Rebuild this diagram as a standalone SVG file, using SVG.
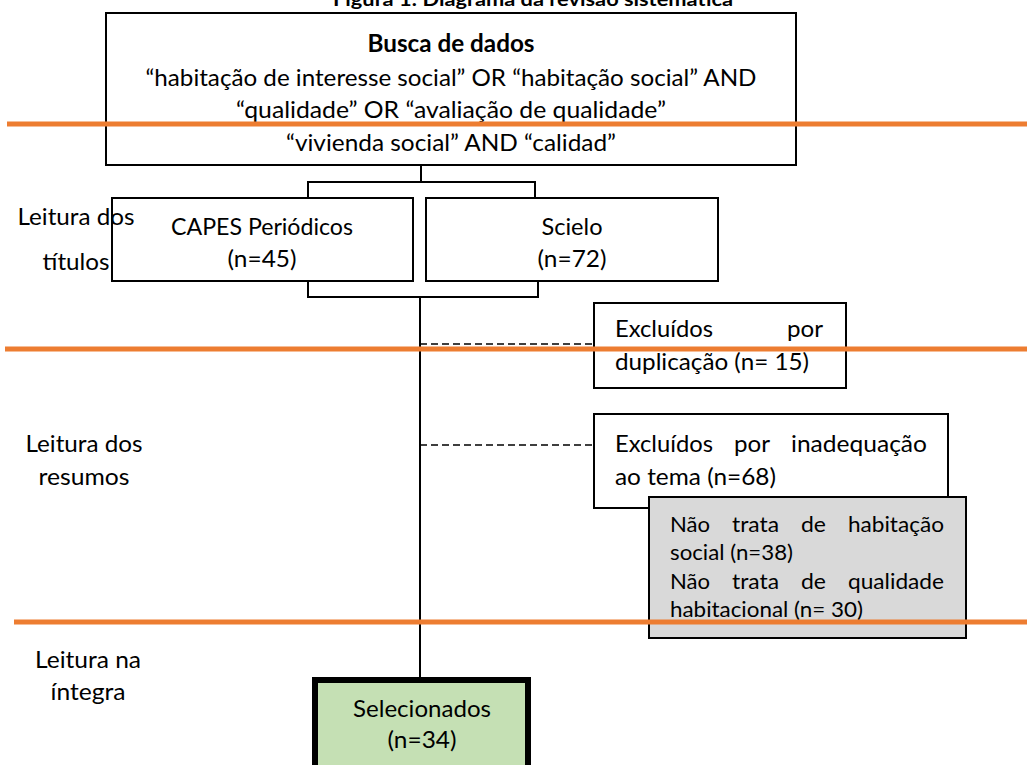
<svg xmlns="http://www.w3.org/2000/svg" width="1027" height="765" viewBox="0 0 1027 765">
<style>
text{font-family:Lato,"Liberation Sans",sans-serif;fill:#000}
.t{font-size:24px}
.s{font-size:22px}
.b{font-weight:bold}
.box{fill:#fff;stroke:#000;stroke-width:2}
.ln{fill:none;stroke:#000;stroke-width:2}
.dash{fill:none;stroke:#000;stroke-width:1.5;stroke-dasharray:7 4}
.or{stroke:#ED7D31;stroke-width:5}
</style>
<rect width="1027" height="765" fill="#fff"/>
<text x="333" y="6" class="b" font-size="19" textLength="400" lengthAdjust="spacingAndGlyphs">Figura 1: Diagrama da revisão sistemática</text>

<g id="connectors">
<path class="ln" d="M421,165 V182 M308,198 V182 H535 V198"/>
<path class="ln" d="M308,281 V297 H538 V281"/>
<path class="ln" d="M420,297 V677"/>
<path class="dash" d="M420,344 H594"/>
<path class="dash" d="M420,445 H594"/>
</g>

<g id="busca">
<rect class="box" x="106" y="13" width="690" height="152"/>
<text class="t b" x="451" y="52" text-anchor="middle" textLength="167" lengthAdjust="spacingAndGlyphs">Busca de dados</text>
<text class="t" x="451" y="86" text-anchor="middle" textLength="611" lengthAdjust="spacingAndGlyphs">“habitação de interesse social” OR “habitação social” AND</text>
<text class="t" x="451" y="118" text-anchor="middle" textLength="430" lengthAdjust="spacingAndGlyphs">“qualidade” OR “avaliação de qualidade”</text>
<text class="t" x="451" y="151" text-anchor="middle" textLength="330" lengthAdjust="spacingAndGlyphs">“vivienda social” AND “calidad”</text>
</g>

<g id="capes">
<rect class="box" x="112" y="198" width="301" height="83"/>
<text class="t" x="262" y="235" text-anchor="middle" textLength="182" lengthAdjust="spacingAndGlyphs">CAPES Periódicos</text>
<text class="t" x="262" y="267" text-anchor="middle" textLength="69" lengthAdjust="spacingAndGlyphs">(n=45)</text>
</g>

<g id="scielo">
<rect class="box" x="426" y="198" width="292" height="83"/>
<text class="t" x="572" y="235" text-anchor="middle" textLength="61" lengthAdjust="spacingAndGlyphs">Scielo</text>
<text class="t" x="572" y="267" text-anchor="middle" textLength="69" lengthAdjust="spacingAndGlyphs">(n=72)</text>
</g>

<g id="label-titulos">
<text class="t" x="76" y="225" text-anchor="middle" textLength="117" lengthAdjust="spacingAndGlyphs">Leitura dos</text>
<text class="t" x="76" y="270" text-anchor="middle" textLength="67" lengthAdjust="spacingAndGlyphs">títulos</text>
</g>

<g id="duplicacao">
<rect class="box" x="594" y="303" width="252" height="85"/>
<text class="t" x="615" y="337" textLength="98" lengthAdjust="spacingAndGlyphs">Excluídos</text>
<text class="t" x="823" y="337" text-anchor="end" textLength="36" lengthAdjust="spacingAndGlyphs">por</text>
<text class="t" x="615" y="370" textLength="194" lengthAdjust="spacingAndGlyphs">duplicação (n= 15)</text>
</g>

<g id="inadequacao">
<rect class="box" x="594" y="414" width="354" height="94"/>
<text class="t" x="615" y="452" textLength="98" lengthAdjust="spacingAndGlyphs">Excluídos</text>
<text class="t" x="734" y="452" textLength="36" lengthAdjust="spacingAndGlyphs">por</text>
<text class="t" x="927" y="452" text-anchor="end" textLength="136" lengthAdjust="spacingAndGlyphs">inadequação</text>
<text class="t" x="615" y="485" textLength="161" lengthAdjust="spacingAndGlyphs">ao tema (n=68)</text>
</g>

<g id="motivos">
<rect x="649" y="497" width="317" height="141" fill="#D9D9D9" stroke="#000" stroke-width="2"/>
<text class="s" x="670" y="532" textLength="40" lengthAdjust="spacingAndGlyphs">Não</text>
<text class="s" x="732" y="532" textLength="47" lengthAdjust="spacingAndGlyphs">trata</text>
<text class="s" x="801" y="532" textLength="25" lengthAdjust="spacingAndGlyphs">de</text>
<text class="s" x="944" y="532" text-anchor="end" textLength="96" lengthAdjust="spacingAndGlyphs">habitação</text>
<text class="s" x="670" y="560" textLength="123" lengthAdjust="spacingAndGlyphs">social (n=38)</text>
<text class="s" x="670" y="589" textLength="40" lengthAdjust="spacingAndGlyphs">Não</text>
<text class="s" x="732" y="589" textLength="47" lengthAdjust="spacingAndGlyphs">trata</text>
<text class="s" x="801" y="589" textLength="25" lengthAdjust="spacingAndGlyphs">de</text>
<text class="s" x="944" y="589" text-anchor="end" textLength="96" lengthAdjust="spacingAndGlyphs">qualidade</text>
<text class="s" x="670" y="617" textLength="193" lengthAdjust="spacingAndGlyphs">habitacional (n= 30)</text>
</g>

<g id="label-resumos">
<text class="t" x="84" y="452" text-anchor="middle" textLength="117" lengthAdjust="spacingAndGlyphs">Leitura dos</text>
<text class="t" x="84" y="485" text-anchor="middle" textLength="91" lengthAdjust="spacingAndGlyphs">resumos</text>
</g>

<g id="label-integra">
<text class="t" x="88" y="668" text-anchor="middle" textLength="106" lengthAdjust="spacingAndGlyphs">Leitura na</text>
<text class="t" x="88" y="700" text-anchor="middle" textLength="75" lengthAdjust="spacingAndGlyphs">íntegra</text>
</g>

<g id="selecionados">
<rect x="315" y="680" width="213" height="100" fill="#C5E0B4" stroke="#000" stroke-width="6"/>
<text class="t" x="422" y="717" text-anchor="middle" textLength="138" lengthAdjust="spacingAndGlyphs">Selecionados</text>
<text class="t" x="422" y="748" text-anchor="middle" textLength="69" lengthAdjust="spacingAndGlyphs">(n=34)</text>
</g>

<g id="dividers">
<line class="or" x1="7" y1="124" x2="1027" y2="124"/>
<line class="or" x1="5" y1="349" x2="1027" y2="349"/>
<line class="or" x1="14" y1="622" x2="1027" y2="622"/>
</g>
</svg>
